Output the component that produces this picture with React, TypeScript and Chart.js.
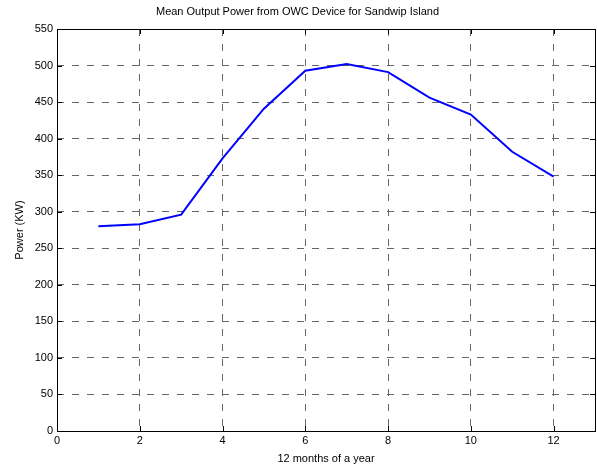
import React, { useEffect, useRef } from 'react';
import { Chart, registerables } from 'chart.js';

Chart.register(...registerables);

const months = [1, 2, 3, 4, 5, 6, 7, 8, 9, 10, 11, 12];
const power = [280, 283, 296, 373, 441, 493, 502, 491, 456, 433, 382, 348];
const xTickValues = [0, 2, 4, 6, 8, 10, 12];
const yTickValues = [0, 50, 100, 150, 200, 250, 300, 350, 400, 450, 500, 550];
const chartTitle = 'Mean Output Power from OWC Device for Sandwip Island';
const xTitle = '12 months of a year';
const yTitle = 'Power (KW)';

const FONT = 'Liberation Sans, Arial, Helvetica, sans-serif';

const framePlugin = {
  id: 'matlabFrame',
  beforeDatasetsDraw(chart: any) {
    const { ctx, chartArea, scales } = chart;
    const { left, right, top, bottom } = chartArea;
    ctx.save();
    ctx.strokeStyle = '#000';
    ctx.lineWidth = 1;
    ctx.setLineDash([]);
    const tl = 5;
    ctx.beginPath();
    for (const v of xTickValues) {
      const px = Math.round(scales.x.getPixelForValue(v)) + 0.5;
      ctx.moveTo(px, bottom);
      ctx.lineTo(px, bottom - tl);
      ctx.moveTo(px, top);
      ctx.lineTo(px, top + tl);
    }
    for (const v of yTickValues) {
      const py = Math.round(scales.y.getPixelForValue(v)) + 0.5;
      ctx.moveTo(left, py);
      ctx.lineTo(left + tl, py);
      ctx.moveTo(right, py);
      ctx.lineTo(right - tl, py);
    }
    ctx.stroke();
    ctx.strokeRect(Math.round(left) + 0.5, Math.round(top) + 0.5, Math.round(right - left), Math.round(bottom - top));
    ctx.restore();
  },
};

export default function App() {
  const ref = useRef<HTMLCanvasElement | null>(null);
  useEffect(() => {
    document.body.style.margin = '0';
    const canvas = ref.current;
    if (!canvas) return;
    const chart = new Chart(canvas, {
      type: 'line',
      data: {
        datasets: [
          {
            data: months.map((m, i) => ({ x: m, y: power[i] })),
            borderColor: '#0000ff',
            borderWidth: 2,
            pointRadius: 0,
            tension: 0,
            fill: false,
          },
        ],
      },
      options: {
        responsive: false,
        animation: false,
        devicePixelRatio: 1,
        layout: { padding: { left: 0, right: 2, top: 0, bottom: 0 } },
        plugins: {
          legend: { display: false },
          tooltip: { enabled: false },
          title: {
            display: true,
            text: chartTitle,
            color: '#000',
            font: { family: FONT, size: 11, weight: 'normal' },
            padding: { top: 5, bottom: 10.8 },
          },
        },
        scales: {
          x: {
            type: 'linear',
            min: 0,
            max: 13,
            afterFit(scale: any) {
              scale.height = 37;
            },
            ticks: {
              stepSize: 2,
              includeBounds: false,
              color: '#000',
              font: { family: FONT, size: 11 },
              padding: 3,
              maxRotation: 0,
              callback: (v: any) => String(v),
            },
            afterBuildTicks(scale: any) {
              scale.ticks = xTickValues.map((v) => ({ value: v }));
            },
            grid: {
              color: '#666',
              lineWidth: 1,
              drawTicks: false,
            },
            border: { display: false, dash: [7, 8] },
            title: {
              display: true,
              text: xTitle,
              color: '#000',
              font: { family: FONT, size: 11 },
              padding: { top: 0, bottom: 2 },
            },
          },
          y: {
            type: 'linear',
            min: 0,
            max: 550,
            afterFit(scale: any) {
              scale.width = 57;
            },
            afterBuildTicks(scale: any) {
              scale.ticks = yTickValues.map((v) => ({ value: v }));
            },
            ticks: {
              color: '#000',
              font: { family: FONT, size: 11 },
              padding: 4,
              callback: (v: any) => String(v),
            },
            grid: {
              color: '#666',
              lineWidth: 1,
              drawTicks: false,
            },
            border: { display: false, dash: [7, 8] },
            title: {
              display: true,
              text: yTitle,
              color: '#000',
              font: { family: FONT, size: 11 },
              padding: { top: 13.4, bottom: 0 },
            },
          },
        },
      },
      plugins: [framePlugin],
    } as any);
    return () => chart.destroy();
  }, []);
  return (
    <div style={{ position: 'fixed', left: 0, top: 0, width: 597, height: 468, background: '#fff' }}>
      <canvas ref={ref} width={597} height={468} style={{ display: 'block' }} />
    </div>
  );
}
